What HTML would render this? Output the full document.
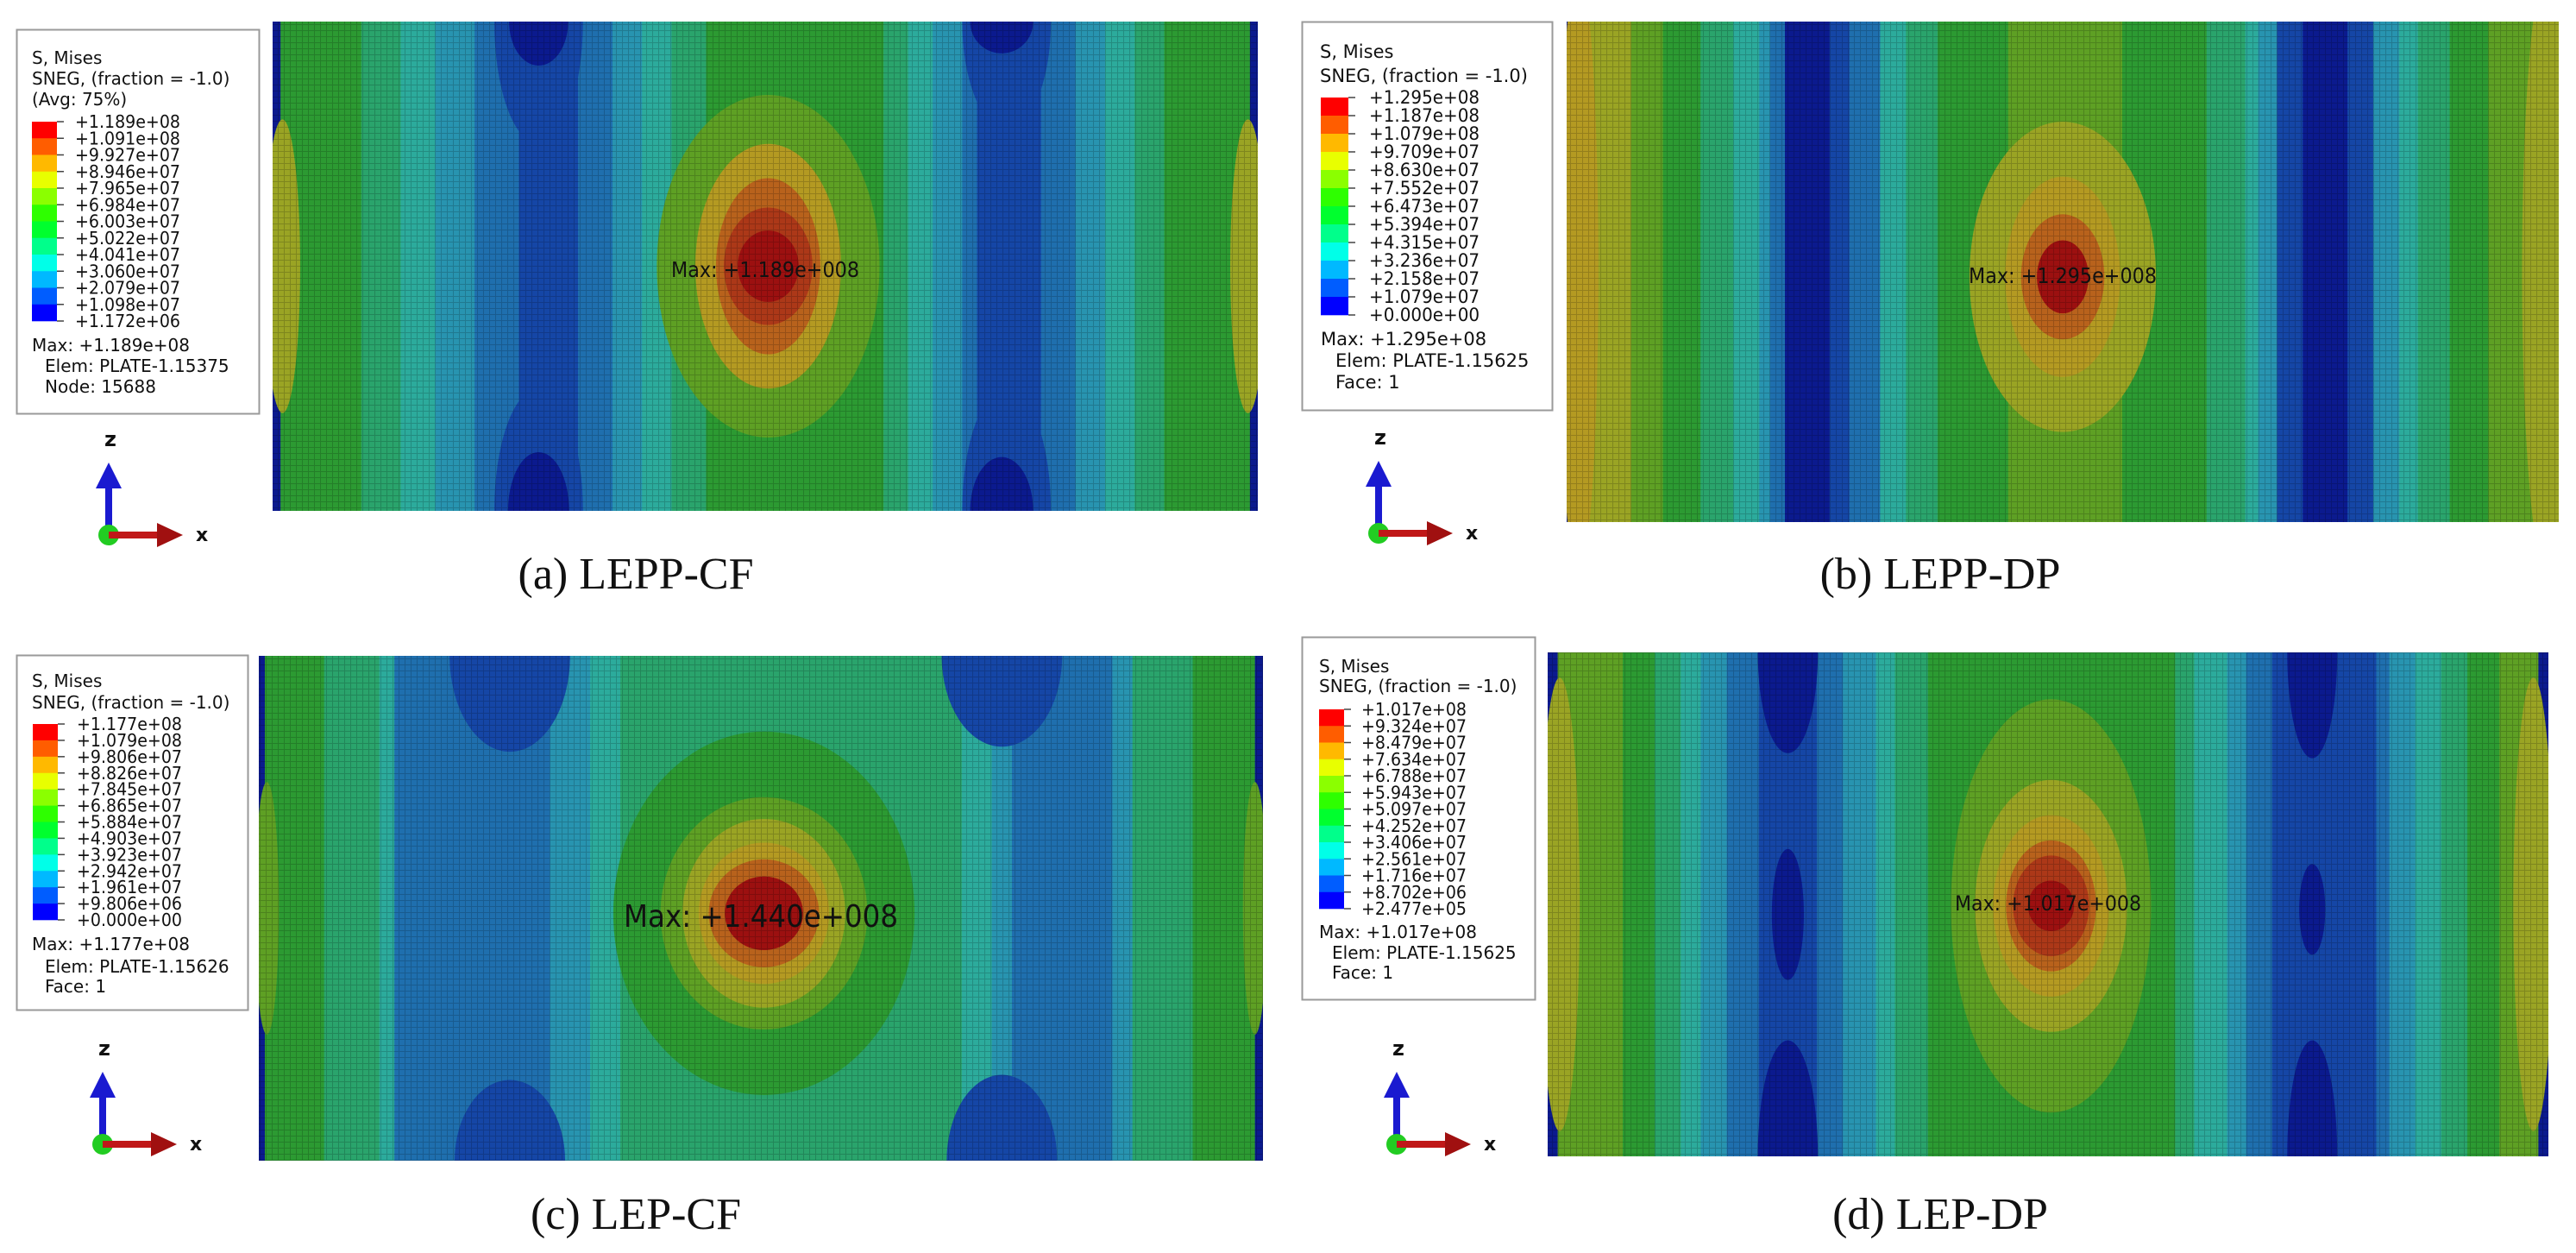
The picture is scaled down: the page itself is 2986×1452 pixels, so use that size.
<!DOCTYPE html>
<html><head><meta charset="utf-8">
<style>
html,body{margin:0;padding:0;background:#fff;}
svg{display:block;}
.lg{font-family:"DejaVu Sans","Liberation Sans",sans-serif;fill:#111;}
.cap{font-family:"Liberation Serif",serif;fill:#111;}
</style></head>
<body>
<svg id="fig" width="2986" height="1452" viewBox="0 0 2986 1452" xmlns="http://www.w3.org/2000/svg">
<defs>
<pattern id="mesh" width="7" height="7" patternUnits="userSpaceOnUse">
<path d="M0 0.5H7M0.5 0V7" stroke="rgba(0,0,0,0.18)" stroke-width="1"/>
</pattern>
</defs>
</svg>
<script>
// ---- shared colour levels ----
const plotColors=["#0b1a8e","#1546a6","#1f6fae","#2894b0","#2cab9c","#2aa46c","#2c9a32","#5ea024","#9aa424","#b49a22","#b8621c","#ac3818","#9c1010"];
const legendColors=["#0000ff","#005dff","#00b9ff","#00ffe8","#00ff8b","#00ff2e","#2eff00","#8bff00","#e8ff00","#ffb900","#ff5d00","#ff0000"];

// ---- panel (a) data ----
const aStripeEnds=[0.008,0.09,0.13,0.165,0.205,0.25,0.31,0.345,0.375,0.405,0.44,0.62,0.645,0.67,0.7,0.715,0.78,0.815,0.845,0.875,0.905,0.992,1];
const aStripeLevels=[0,6,5,4,3,2,1,2,3,4,5,6,5,4,3,2,1,2,3,4,5,6,0];
const aBlobX=[0.27,0.27,0.745,0.745,0.27,0.27,0.74,0.74,0.01,0.99,0.503,0.503,0.503,0.503,0.503];
const aBlobY=[0,1,0,1,0,1,0,1,0.5,0.5,0.5,0.5,0.5,0.5,0.5];
const aBlobRx=[0.045,0.045,0.045,0.045,0.03,0.031,0.032,0.032,0.018,0.018,0.113,0.074,0.053,0.045,0.031];
const aBlobRy=[0.25,0.25,0.22,0.25,0.09,0.12,0.065,0.11,0.3,0.3,0.35,0.25,0.18,0.12,0.073];
const aBlobLevels=[1,1,1,1,0,0,0,0,8,8,7,9,10,11,12];
const aLabels=["+1.189e+08","+1.091e+08","+9.927e+07","+8.946e+07","+7.965e+07","+6.984e+07","+6.003e+07","+5.022e+07","+4.041e+07","+3.060e+07","+2.079e+07","+1.098e+07","+1.172e+06"];

// ---- panel (b) data ----
const bStripeEnds=[0.005,0.065,0.097,0.135,0.168,0.194,0.205,0.22,0.265,0.285,0.316,0.342,0.374,0.445,0.56,0.645,0.684,0.697,0.716,0.742,0.787,0.813,0.839,0.858,0.89,0.929,0.993,1];
const bStripeLevels=[0,8,7,6,5,4,3,2,0,1,2,4,5,6,7,6,5,4,3,1,0,1,3,4,5,6,7,0];
const bBlobX=[0.012,0.988,0.5,0.5,0.5,0.5];
const bBlobY=[0.5,0.5,0.51,0.51,0.51,0.51];
const bBlobRx=[0.02,0.025,0.094,0.058,0.042,0.026];
const bBlobRy=[0.6,0.6,0.31,0.2,0.125,0.073];
const bBlobLevels=[9,8,8,9,10,12];
const bLabels=["+1.295e+08","+1.187e+08","+1.079e+08","+9.709e+07","+8.630e+07","+7.552e+07","+6.473e+07","+5.394e+07","+4.315e+07","+3.236e+07","+2.158e+07","+1.079e+07","+0.000e+00"];

// ---- panel (c) data ----
const cStripeEnds=[0.006,0.065,0.12,0.135,0.29,0.33,0.36,0.70,0.73,0.75,0.85,0.87,0.93,0.992,1];
const cStripeLevels=[0,6,5,4,2,3,4,5,4,3,2,3,5,6,0];
const cBlobX=[0.25,0.74,0.25,0.74,0.008,0.992,0.503,0.503,0.503,0.503,0.503,0.503];
const cBlobY=[0,0,1,1,0.5,0.5,0.51,0.51,0.51,0.51,0.51,0.51];
const cBlobRx=[0.06,0.06,0.055,0.055,0.012,0.012,0.15,0.103,0.081,0.065,0.055,0.039];
const cBlobRy=[0.19,0.18,0.16,0.17,0.25,0.25,0.36,0.23,0.187,0.14,0.107,0.073];
const cBlobLevels=[1,1,1,1,7,7,6,7,8,9,10,12];
const cLabels=["+1.177e+08","+1.079e+08","+9.806e+07","+8.826e+07","+7.845e+07","+6.865e+07","+5.884e+07","+4.903e+07","+3.923e+07","+2.942e+07","+1.961e+07","+9.806e+06","+0.000e+00"];

// ---- panel (d) data ----
const dStripeEnds=[0.01,0.075,0.107,0.133,0.153,0.179,0.211,0.269,0.295,0.328,0.347,0.38,0.627,0.646,0.679,0.698,0.724,0.828,0.841,0.867,0.893,0.919,0.951,0.99,1];
const dStripeLevels=[0,7,6,5,4,3,2,1,2,3,4,5,6,5,4,3,2,1,2,3,4,5,6,7,0];
const dBlobX=[0.012,0.985,0.24,0.24,0.24,0.764,0.764,0.764,0.503,0.503,0.503,0.503,0.503,0.503];
const dBlobY=[0.5,0.5,0,0.52,1,0,0.51,1,0.503,0.503,0.503,0.503,0.503,0.503];
const dBlobRx=[0.02,0.02,0.03,0.016,0.03,0.025,0.013,0.025,0.1,0.076,0.058,0.045,0.038,0.023];
const dBlobRy=[0.45,0.45,0.2,0.13,0.23,0.21,0.09,0.23,0.41,0.25,0.18,0.13,0.1,0.05];
const dBlobLevels=[8,8,0,0,0,0,0,0,7,8,9,10,11,12];
const dLabels=["+1.017e+08","+9.324e+07","+8.479e+07","+7.634e+07","+6.788e+07","+5.943e+07","+5.097e+07","+4.252e+07","+3.406e+07","+2.561e+07","+1.716e+07","+8.702e+06","+2.477e+05"];

const NS="http://www.w3.org/2000/svg";
const svg=document.getElementById('fig');
function mk(tag,attrs,parent){const e=document.createElementNS(NS,tag);for(const k in attrs)e.setAttribute(k,attrs[k]);(parent||svg).appendChild(e);return e;}
function txt(s,x,y,size,cls,parent,extra){const t=mk('text',Object.assign({x:x,y:y,'font-size':size,class:cls},extra||{}),parent);t.textContent=s;return t;}

function drawPlot(key,X,Y,W,H,ends,levels,bx,by,brx,bry,bl,maxText,tx,ty,tsize,tlen){
  const g=mk('g',{});
  
  
  const cp=mk('clipPath',{id:'clip'+key},g);
  mk('rect',{x:X,y:Y,width:W,height:H},cp);
  const inner=mk('g',{'clip-path':'url(#clip'+key+')'},g);
  const sx=f=>X+f*W, sy=f=>Y+f*H;
  let prev=0;
  for(let i=0;i<ends.length;i++){
    const r=mk('rect',{x:sx(prev),y:Y,width:sx(ends[i])-sx(prev)+0.5,height:H,fill:plotColors[levels[i]]},inner);
    
    
    prev=ends[i];
  }
  for(let i=0;i<bx.length;i++){
    const e=mk('ellipse',{cx:sx(bx[i]),cy:sy(by[i]),rx:brx[i]*W,ry:bry[i]*H,fill:plotColors[bl[i]]},inner);
    
    
  }
  mk('rect',{x:X,y:Y,width:W,height:H,fill:'url(#mesh)'},inner);
  const t=txt(maxText,sx(tx),sy(ty),tsize,'lg',g,{'text-anchor':'middle',textLength:tlen,lengthAdjust:'spacingAndGlyphs','dominant-baseline':'middle'});
  
  
}

function drawLegend(key,bx,by,bw,bh,titles,titleX,titleY,barX,barW,barTop,barBot,labelX,labels,info,fs){
  const g=mk('g',{});
  
  
  mk('rect',{x:bx+0.5,y:by+0.5,width:bw,height:bh,fill:'#fff',stroke:'#9a9a9a','stroke-width':2},g);
  titles.forEach((s,i)=>{const t=txt(s,titleX,titleY[i],fs,'lg',g);});
  const n=legendColors.length, h=(barBot-barTop)/n;
  for(let i=0;i<n;i++){
    const r=mk('rect',{x:barX,y:barTop+i*h,width:barW,height:h+0.3,fill:legendColors[n-1-i]},g);
    
    
  }
  for(let i=0;i<labels.length;i++){
    const y=barTop+i*h;
    mk('line',{x1:barX+barW,y1:y,x2:barX+barW+8,y2:y,stroke:'#444','stroke-width':1.5},g);
    const t=txt(labels[i],labelX,y+7,fs,'lg',g,{textLength:fs*6.1,lengthAdjust:'spacingAndGlyphs'});
    
    
  }
  info.forEach(r=>{const t=txt(r[0],r[1],r[2],fs,'lg',g);});
}

function drawTriad(key,ox,oy){
  const g=mk('g',{});
  
  
  mk('rect',{x:ox-4,y:oy-56,width:8,height:56,fill:'#1a1ad0'},g);
  mk('polygon',{points:`${ox-15},${oy-54} ${ox+15},${oy-54} ${ox},${oy-84}`,fill:'#1a1ad0'},g);
  mk('circle',{cx:ox,cy:oy,r:12,fill:'#22cc22'},g);
  mk('rect',{x:ox,y:oy-4,width:58,height:8,fill:'#c01818'},g);
  mk('polygon',{points:`${ox+56},${oy-14} ${ox+56},${oy+14} ${ox+86},${oy}`,fill:'#a01010'},g);
  txt('z',ox-5,oy-103,24,'lg',g,{'font-weight':'bold'});
  txt('x',ox+101,oy+7,22,'lg',g,{'font-weight':'bold'});
}

function caption(s,cx,y){const t=txt(s,cx,y,52,'cap',svg,{'text-anchor':'middle'});}

// Panel a
drawPlot('a',316,25,1142,567,aStripeEnds,aStripeLevels,aBlobX,aBlobY,aBlobRx,aBlobRy,aBlobLevels,'Max: +1.189e+008',0.5,0.51,25,218);
drawLegend('a',19,34,281,445,['S, Mises','SNEG, (fraction = -1.0)','(Avg: 75%)'],37,[74,98,122],37,29,141,372,87,aLabels,
  [['Max: +1.189e+08',37,407],['Elem: PLATE-1.15375',52,431],['Node: 15688',52,455]],20);
drawTriad('a',126,620);
caption('(a) LEPP-CF',737,682);

// Panel b
drawPlot('b',1816,25,1150,580,bStripeEnds,bStripeLevels,bBlobX,bBlobY,bBlobRx,bBlobRy,bBlobLevels,'Max: +1.295e+008',0.5,0.51,25,218);
drawLegend('b',1509,25,290,450,['S, Mises','SNEG, (fraction = -1.0)'],1530,[67,95],1531,32,113,365,1587,bLabels,
  [['Max: +1.295e+08',1531,400],['Elem: PLATE-1.15625',1548,425],['Face: 1',1548,450]],21);
drawTriad('b',1598,618);
caption('(b) LEPP-DP',2249,682);

// Panel c
drawPlot('c',300,760,1164,585,cStripeEnds,cStripeLevels,cBlobX,cBlobY,cBlobRx,cBlobRy,cBlobLevels,'Max: +1.440e+008',0.5,0.52,36,318);
drawLegend('c',19,759,268,411,['S, Mises','SNEG, (fraction = -1.0)'],37,[796,821],38,29,839,1066,89,cLabels,
  [['Max: +1.177e+08',37,1101],['Elem: PLATE-1.15626',52,1127],['Face: 1',52,1150]],20);
drawTriad('c',119,1326);
caption('(c) LEP-CF',737,1424);

// Panel d
drawPlot('d',1794,756,1160,584,dStripeEnds,dStripeLevels,dBlobX,dBlobY,dBlobRx,dBlobRy,dBlobLevels,'Max: +1.017e+008',0.5,0.50,24,216);
drawLegend('d',1509,738,270,420,['S, Mises','SNEG, (fraction = -1.0)'],1529,[779,802],1529,29,822,1053,1578,dLabels,
  [['Max: +1.017e+08',1529,1087],['Elem: PLATE-1.15625',1544,1111],['Face: 1',1544,1134]],20);
drawTriad('d',1619,1326);
caption('(d) LEP-DP',2249,1424);
</script>
</body></html>
